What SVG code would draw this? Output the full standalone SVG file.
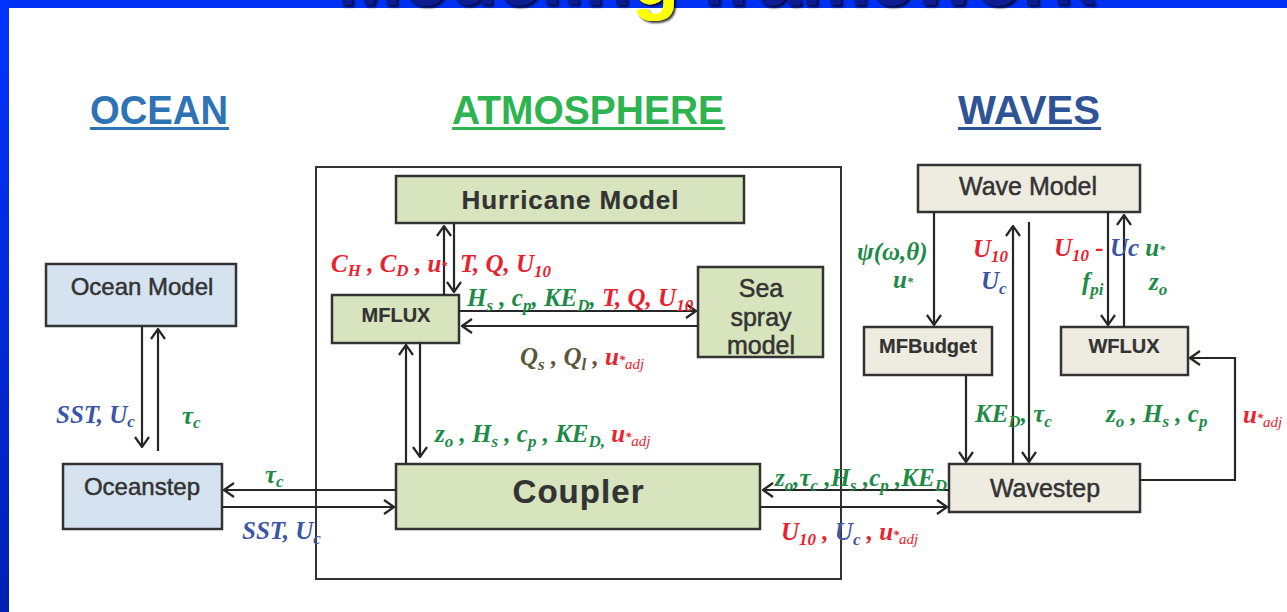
<svg xmlns="http://www.w3.org/2000/svg" width="1287" height="612" viewBox="0 0 1287 612">
<defs>
<linearGradient id="side" x1="0" y1="0" x2="0" y2="1"><stop offset="0" stop-color="#0033ff"/><stop offset="1" stop-color="#0020b4"/></linearGradient>
<filter id="shadow" x="-10%" y="-50%" width="120%" height="200%"><feDropShadow dx="2" dy="2" stdDeviation="1" flood-color="#000" flood-opacity="0.8"/></filter>
<marker id="ah" viewBox="0 0 12 16" refX="11" refY="8" markerWidth="12" markerHeight="16" markerUnits="userSpaceOnUse" orient="auto"><path d="M1,1 L11,8 L1,15" fill="none" stroke="#262626" stroke-width="2.2"/></marker>
</defs>
<style>
.ln{stroke:#262626;stroke-width:2.2;fill:none}
.ar{marker-end:url(#ah)}
.bx{stroke:#333;stroke-width:2.5}
.oc{fill:#d5e3f1}.at{fill:#d7e4bd}.wv{fill:#eeece1}
.nt{font-family:"Liberation Sans",Arial,sans-serif;fill:#333;text-anchor:middle;stroke:#333;stroke-width:0.5}
.nb{font-weight:bold;stroke-width:0.2}
.hd{font-family:"Liberation Sans",Arial,sans-serif;font-weight:bold;font-size:40px}
.lb{font-family:"Liberation Serif","Times New Roman",serif;font-style:italic;font-weight:bold;font-size:25px}
.r{fill:#e8232f}.g{fill:#1e8a48}.b{fill:#3b56a6}.o{fill:#5b573c}
.s{font-size:17px}
.st{font-size:12px}
.aj{font-size:15px;font-weight:normal}
</style>
<rect width="1287" height="612" fill="#fff"/>
<rect x="0" y="0" width="1287" height="8" fill="#0030f2"/>
<rect x="0" y="0" width="9" height="612" fill="url(#side)"/>
<g id="title"><text x="337" y="5" font-family="'Liberation Sans',Arial,sans-serif" font-weight="bold" font-size="78" fill="#081a90" filter="url(#shadow)">Modelin<tspan fill="#ffff00">g</tspan> framework</text></g>

<g id="headers">
<text class="hd" x="90" y="124" fill="#2e74b5" textLength="138" lengthAdjust="spacingAndGlyphs">OCEAN</text>
<rect x="90" y="127" width="139" height="3" fill="#2e74b5"/>
<text class="hd" x="452" y="124" fill="#2db34f" textLength="272" lengthAdjust="spacingAndGlyphs">ATMOSPHERE</text>
<rect x="452" y="127" width="273" height="3" fill="#2db34f"/>
<text class="hd" x="958" y="124" fill="#2f5496" textLength="142" lengthAdjust="spacingAndGlyphs">WAVES</text>
<rect x="958" y="127" width="143" height="3" fill="#2f5496"/>
</g>

<g id="atmosphere-frame"><rect x="316" y="167" width="525" height="412" fill="none" stroke="#333" stroke-width="2"/></g>

<g id="ocean-model"><rect class="bx oc" x="46" y="264" width="190" height="62"/><text class="nt" x="142" y="295" font-size="24">Ocean Model</text></g>
<g id="oceanstep"><rect class="bx oc" x="63" y="464" width="159" height="65"/><text class="nt" x="142" y="495" font-size="24">Oceanstep</text></g>
<g id="hurricane-model"><rect class="bx at" x="396" y="176" width="348" height="47"/><text class="nt nb" x="570" y="209" font-size="26" textLength="217">Hurricane Model</text></g>
<g id="mflux"><rect class="bx at" x="332" y="295" width="127" height="48"/><text class="nt nb" x="396" y="322" font-size="20">MFLUX</text></g>
<g id="sea-spray-model"><rect class="bx at" x="698" y="267" width="125" height="90"/><text class="nt" font-size="25"><tspan x="761" y="297">Sea</tspan><tspan x="761" y="326">spray</tspan><tspan x="761" y="354">model</tspan></text></g>
<g id="coupler"><rect class="bx at" x="396" y="464" width="364" height="65"/><text class="nt nb" x="578" y="503" font-size="33" textLength="131">Coupler</text></g>
<g id="wave-model"><rect class="bx wv" x="918" y="165" width="222" height="47"/><text class="nt" x="1028" y="195" font-size="25">Wave Model</text></g>
<g id="mfbudget"><rect class="bx wv" x="864" y="327" width="128" height="48"/><text class="nt nb" x="928" y="353" font-size="20">MFBudget</text></g>
<g id="wflux"><rect class="bx wv" x="1061" y="327" width="127" height="48"/><text class="nt nb" x="1124" y="353" font-size="20">WFLUX</text></g>
<g id="wavestep"><rect class="bx wv" x="949" y="464" width="191" height="48"/><text class="nt" x="1045" y="497" font-size="25">Wavestep</text></g>

<g id="connectors">
<path class="ln ar" d="M142,327 V447"/>
<path class="ln ar" d="M158,451 V329"/>
<path class="ln ar" d="M396,490 H224"/>
<path class="ln ar" d="M222,507 H394"/>
<path class="ln ar" d="M444,295 V226"/>
<path class="ln ar" d="M454,223 V292"/>
<path class="ln ar" d="M459,311 H696"/>
<path class="ln ar" d="M698,326 H462"/>
<path class="ln ar" d="M406,464 V345"/>
<path class="ln ar" d="M420,343 V457"/>
<path class="ln ar" d="M949,490 H763"/>
<path class="ln ar" d="M760,507 H947"/>
<path class="ln ar" d="M934,212 V325"/>
<path class="ln ar" d="M966,375 V462"/>
<path class="ln ar" d="M1013,464 V226"/>
<path class="ln ar" d="M1029,222 V462"/>
<path class="ln ar" d="M1108,212 V325"/>
<path class="ln ar" d="M1124,327 V215"/>
<path class="ln ar" d="M1140,480 H1235 V358 H1190"/>
</g>

<g id="labels">
<text class="lb b" x="56" y="423" font-size="27">SST, U<tspan class="s" dy="4">c</tspan></text>
<text class="lb g" x="182" y="424" font-size="30">τ<tspan class="s" dy="4">c</tspan></text>
<text class="lb g" x="265" y="483" font-size="27">τ<tspan class="s" dy="4">c</tspan></text>
<text class="lb b" x="242" y="539" font-size="31">SST, U<tspan class="s" font-size="20" dy="5">c</tspan></text>

<text class="lb r" x="331" y="272">C<tspan class="s" dy="4">H</tspan><tspan dy="-4"> , C</tspan><tspan class="s" dy="4">D</tspan><tspan dy="-4"> , u</tspan><tspan class="st" dy="-2">*</tspan></text>
<text class="lb r" x="460" y="272">T, Q, U<tspan class="s" dy="5">10</tspan></text>
<text class="lb" x="467" y="306"><tspan class="g">H</tspan><tspan class="g s" dy="5">s</tspan><tspan class="g" dy="-5"> , c</tspan><tspan class="g s" dy="5">p</tspan><tspan class="g" dy="-5">, KE</tspan><tspan class="g s" dy="5">D</tspan><tspan class="g" dy="-5">, </tspan><tspan class="r">T, Q, U</tspan><tspan class="r s" dy="5">10</tspan></text>
<text class="lb" x="520" y="365" font-size="28"><tspan class="o">Q</tspan><tspan class="o s" font-size="19" dy="5">s</tspan><tspan class="o" dy="-5"> , Q</tspan><tspan class="o s" font-size="19" dy="5">l</tspan><tspan class="o" dy="-5"> , </tspan><tspan class="r">u</tspan><tspan class="r st" dy="-1">*</tspan><tspan class="r aj" font-size="17" dy="5">adj</tspan></text>
<text class="lb" x="435" y="442" font-size="27"><tspan class="g">z</tspan><tspan class="g s" font-size="19" dy="5">o</tspan><tspan class="g" dy="-5"> , H</tspan><tspan class="g s" font-size="19" dy="5">s</tspan><tspan class="g" dy="-5"> , c</tspan><tspan class="g s" font-size="19" dy="5">p</tspan><tspan class="g" dy="-5"> , KE</tspan><tspan class="g s" font-size="19" dy="5">D,</tspan><tspan class="r" dy="-5"> u</tspan><tspan class="r st" dy="-1">*</tspan><tspan class="r aj" font-size="17" dy="5">adj</tspan></text>

<text class="lb g" x="857" y="260" font-size="30">ψ(ω,θ)</text>
<text class="lb g" x="893" y="288" font-size="26">u<tspan class="st" dy="-2">*</tspan></text>
<text class="lb r" x="973" y="257" font-size="26">U<tspan class="s" dy="5">10</tspan></text>
<text class="lb b" x="981" y="289" font-size="26">U<tspan class="s" dy="5">c</tspan></text>
<text class="lb" x="1054" y="256" font-size="26"><tspan class="r">U</tspan><tspan class="r s" dy="5">10</tspan><tspan class="r" dy="-5"> - </tspan><tspan class="b">Uc </tspan><tspan class="g">u</tspan><tspan class="g st" dy="-2">*</tspan></text>
<text class="lb g" x="1082" y="290" font-size="26">f<tspan class="s" dy="5">pi</tspan></text>
<text class="lb g" x="1149" y="290" font-size="26">z<tspan class="s" dy="5">o</tspan></text>
<text class="lb g" x="975" y="422" font-size="24">KE<tspan class="s" dy="5">D</tspan><tspan dy="-5">, τ</tspan><tspan class="s" dy="5">c</tspan></text>
<text class="lb g" x="1106" y="422" font-size="24">z<tspan class="s" dy="5">o</tspan><tspan dy="-5"> , H</tspan><tspan class="s" dy="5">s</tspan><tspan dy="-5"> , c</tspan><tspan class="s" dy="5">p</tspan></text>
<text class="lb r" x="1243" y="423" font-size="26">u<tspan class="st" dy="-1">*</tspan><tspan class="aj" dy="5">adj</tspan></text>
<text class="lb g" x="775" y="486" font-size="24">z<tspan class="s" dy="5">o</tspan><tspan dy="-5">,τ</tspan><tspan class="s" dy="5">c</tspan><tspan dy="-5"> ,H</tspan><tspan class="s" dy="5">s</tspan><tspan dy="-5"> ,c</tspan><tspan class="s" dy="5">p</tspan><tspan dy="-5"> ,KE</tspan><tspan class="s" dy="5">D</tspan></text>
<text class="lb" x="781" y="540" font-size="24"><tspan class="r">U</tspan><tspan class="r s" dy="5">10</tspan><tspan class="r" dy="-5"> , </tspan><tspan class="b">U</tspan><tspan class="b s" dy="5">c</tspan><tspan class="r" dy="-5"> , u</tspan><tspan class="r st" dy="-1">*</tspan><tspan class="r aj" dy="5">adj</tspan></text>
</g>
</svg>
